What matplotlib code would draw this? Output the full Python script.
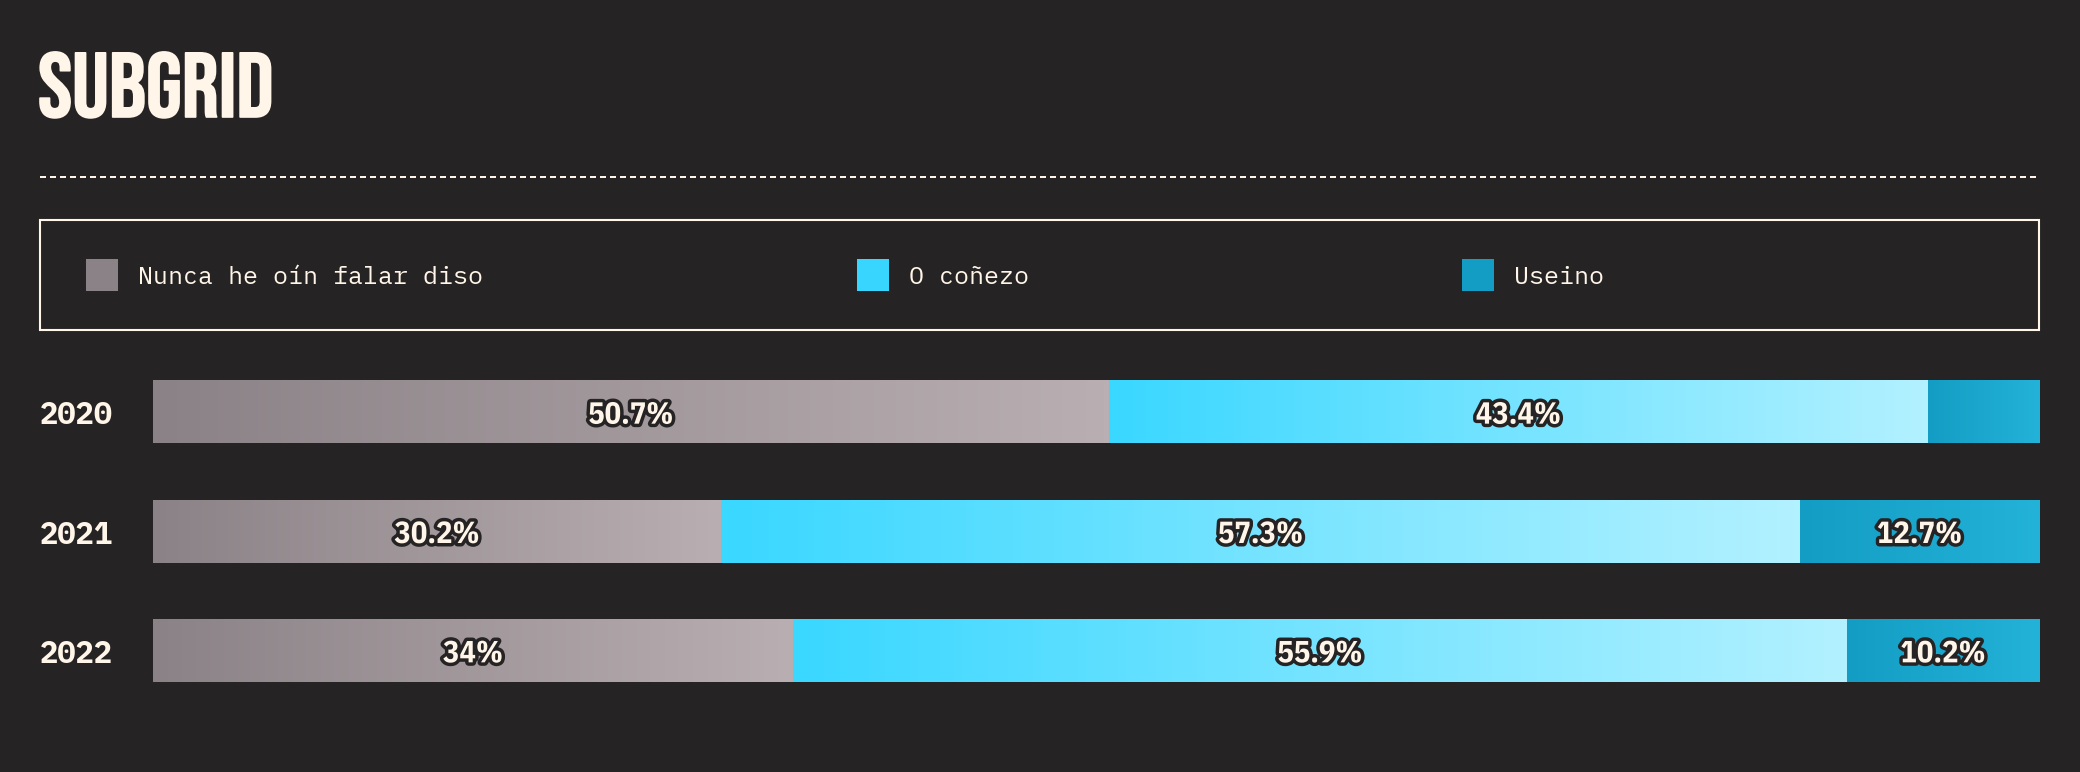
import matplotlib.pyplot as plt
import matplotlib.patheffects as pe
import numpy as np
from matplotlib.colors import LinearSegmentedColormap
from matplotlib.lines import Line2D
from matplotlib.patches import Rectangle
from matplotlib.transforms import blended_transform_factory

years = ["2020", "2021", "2022"]
series = ["Nunca he oín falar diso", "O coñezo", "Useino"]
nunca = [50.7, 30.2, 34.0]
conezo = [43.4, 57.3, 55.9]
useino = [5.9, 12.7, 10.2]
labels = [["50.7%", "43.4%", ""], ["30.2%", "57.3%", "12.7%"], ["34%", "55.9%", "10.2%"]]

BG = "#262324"
CREAM = "#fff6e9"
swatch = ["#8b8287", "#38d5ff", "#139dc5"]
grad = [("#8b8287", "#b9afb2"), ("#3ad7ff", "#b2f1ff"), ("#149dc4", "#23b2d8")]

TITLE_FONT = ["Bebas Neue", "Oswald", "Fira Sans Extra Condensed", "DejaVu Sans"]
MONO_FONT = ["IBM Plex Mono", "Fira Mono", "DejaVu Sans Mono"]
VALUE_FONT = ["IBM Plex Sans Condensed", "Fira Sans Condensed", "DejaVu Sans"]

W, H = 2080, 772
fig = plt.figure(figsize=(W / 100, H / 100), dpi=100, facecolor=BG)


def fx(px):
    return px / W


def fy(py):
    return 1 - py / H


# title and separator
fig.text(fx(38), fy(117), "SUBGRID", color=CREAM, fontsize=66, family=TITLE_FONT,
         va="baseline", ha="left",
         path_effects=[pe.Stroke(linewidth=1.2, foreground=CREAM), pe.Normal()])
fig.add_artist(Line2D([fx(40), fx(2039)], [fy(176.5), fy(176.5)], color=CREAM, lw=1.44,
                      dashes=(3.0, 2.0), dash_capstyle="butt", transform=fig.transFigure))

# legend box
fig.add_artist(Rectangle((fx(40), fy(330)), fx(1999), 110 / H, fill=False, edgecolor=CREAM,
                         lw=1.5, transform=fig.transFigure))
for name, col, sx in zip(series, swatch, [86, 857, 1462]):
    fig.add_artist(Rectangle((fx(sx), fy(291)), fx(32), 32 / H, facecolor=col, edgecolor="none",
                             transform=fig.transFigure))
    fig.text(fx(sx + 52), fy(277.5), name, color=CREAM, fontsize=18, family=MONO_FONT,
             va="center", ha="left")

# bars
ax = fig.add_axes([fx(152.5), 1 - 710.5 / H, fx(2039 - 152.5), 358 / H])
ax.set_facecolor(BG)
ax.axis("off")

bh = 62 / 119
dy = 3 / 119
data = np.array([nunca, conezo, useino]).T
for i, row in enumerate(data):
    shares = row / row.sum()
    left = 0.0
    for j, s in enumerate(shares):
        cmap = LinearSegmentedColormap.from_list(f"g{i}{j}", grad[j])
        ax.imshow(np.linspace(0, 1, 256).reshape(1, -1), cmap=cmap, aspect="auto",
                  extent=[left, left + s, i + bh / 2, i - bh / 2], interpolation="bicubic")
        if labels[i][j]:
            ax.text(left + s / 2, i + dy, labels[i][j], color=CREAM, fontsize=22, fontweight="bold",
                    family=VALUE_FONT, ha="center", va="center",
                    path_effects=[pe.Stroke(linewidth=5, foreground=BG), pe.Normal()])
        left += s
ax.set_xlim(0, 1)
ax.set_ylim(2.5, -0.5)

tr = blended_transform_factory(fig.transFigure, ax.transData)
for i, y in enumerate(years):
    ax.text(fx(40), i + dy, y, transform=tr, color=CREAM, fontsize=22, fontweight="bold",
            family=MONO_FONT, ha="left", va="center")

fig.savefig("out.png", dpi=100, facecolor=BG)
